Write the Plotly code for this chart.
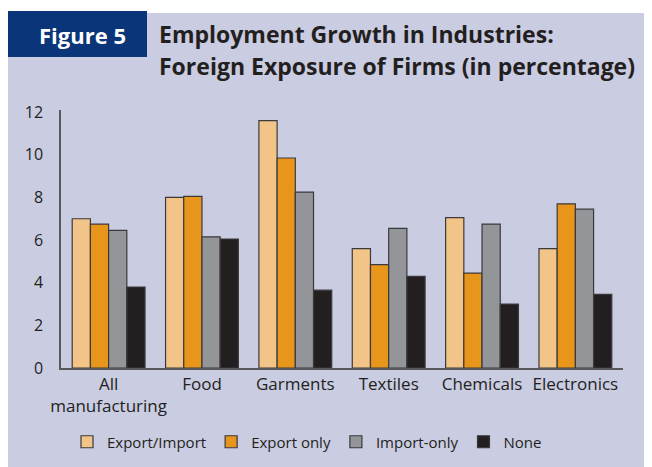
import plotly.graph_objects as go

# data
categories = ["All<br>manufacturing", "Food", "Garments", "Textiles", "Chemicals", "Electronics"]
series_names = ["Export/Import", "Export only", "Import-only", "None"]
export_import = [7.0, 8.0, 11.6, 5.6, 7.05, 5.6]
export_only = [6.75, 8.05, 9.85, 4.85, 4.45, 7.7]
import_only = [6.45, 6.15, 8.25, 6.55, 6.75, 7.45]
none_ = [3.8, 6.05, 3.65, 4.3, 3.0, 3.45]
y_ticks = [0, 2, 4, 6, 8, 10, 12]

colors = ["#F3C487", "#E8951B", "#939598", "#231F20"]
FONT = "Open Sans"
BG = "#CACCE2"

W, H = 652, 467
L, R, T, B = 53, 37, 102, 107
PW, PH = W - L - R, H - T - B


def px(x):
    return (x - L) / PW


def py(y):
    return (H - B - y) / PH


fig = go.Figure()
for name, vals, col in zip(series_names, [export_import, export_only, import_only, none_], colors):
    fig.add_trace(go.Bar(
        x=categories, y=vals, name=name,
        marker=dict(color=col, line=dict(color="#3a3a3c", width=1.2)),
    ))

fig.update_layout(
    width=W, height=H,
    margin=dict(l=L, r=R, t=T, b=B),
    paper_bgcolor=BG,
    plot_bgcolor="rgba(0,0,0,0)",
    barmode="group",
    bargap=0.22,
    bargroupgap=0,
    font=dict(family=FONT, size=16, color="#231F20"),
    showlegend=True,
    legend=dict(
        orientation="h", x=px(59), xanchor="left", y=py(434), yanchor="middle",
        font=dict(family=FONT, size=15, color="#231F20"),
        bgcolor="rgba(0,0,0,0)",
        itemclick=False,
    ),
    xaxis=dict(
        range=[-0.51, 5.51], showline=True, linecolor="#58585a", linewidth=1.5,
        ticks="", tickfont=dict(size=17), showgrid=False, zeroline=False,
    ),
    yaxis=dict(
        range=[0, 12.1], showline=True, linecolor="#58585a", linewidth=1.5,
        tickvals=y_ticks, ticks="", ticklabelstandoff=13,
        tickfont=dict(size=16), showgrid=False, zeroline=False,
    ),
    shapes=[
        dict(type="rect", xref="paper", yref="paper", layer="below",
             x0=px(0), x1=px(W), y0=py(0), y1=py(5),
             fillcolor="white", line=dict(width=0)),
        dict(type="rect", xref="paper", yref="paper", layer="below",
             x0=px(0), x1=px(139), y0=py(49), y1=py(3),
             fillcolor="#0A3578", line=dict(width=0)),
    ],
    annotations=[
        dict(text="<b>Figure 5</b>", xref="paper", yref="paper",
             x=px(74), y=py(27), xanchor="center", yanchor="middle",
             showarrow=False, font=dict(family=FONT, size=22, color="white")),
        dict(text="<b>Employment Growth in Industries:</b>",
             xref="paper", yref="paper", x=px(149), y=py(26),
             xanchor="left", yanchor="middle", showarrow=False,
             font=dict(family=FONT, size=23, color="#231F20")),
        dict(text="<b>Foreign Exposure of Firms (in percentage)</b>",
             xref="paper", yref="paper", x=px(149), y=py(58),
             xanchor="left", yanchor="middle", showarrow=False,
             font=dict(family=FONT, size=23, color="#231F20")),
    ],
)

fig.write_html("out.html")
